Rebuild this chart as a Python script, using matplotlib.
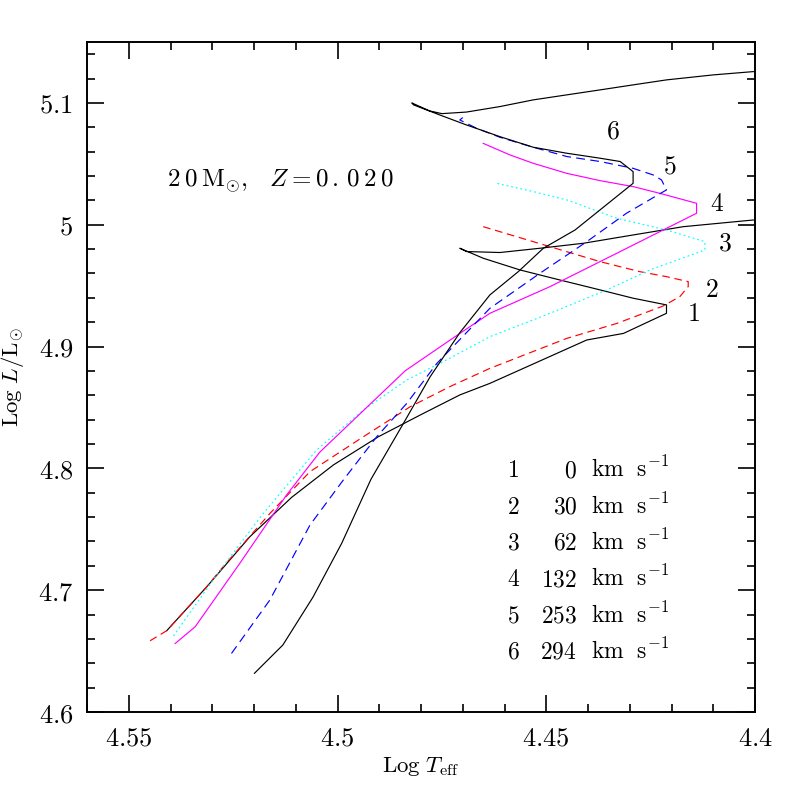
import matplotlib
matplotlib.use("Agg")
import matplotlib.pyplot as plt
from matplotlib.ticker import MultipleLocator, FuncFormatter

plt.rcParams['mathtext.fontset'] = 'cm'
plt.rcParams['font.family'] = ['DejaVu Serif']

# tracks (log Teff, log L/Lsun)
t1_x = [4.5409, 4.5313, 4.5210, 4.5110, 4.5010, 4.4902, 4.4802, 4.4707, 4.4635, 4.4403,
        4.4315, 4.4212, 4.4212, 4.4292, 4.4371, 4.4475, 4.4563, 4.4651, 4.4707, 4.4691,
        4.4611, 4.4515, 4.4411, 4.4292, 4.4172, 4.4004]
t1_y = [4.6668, 4.7029, 4.7439, 4.7762, 4.8028, 4.8260, 4.8438, 4.8603, 4.8698, 4.9054,
        4.9108, 4.9273, 4.9342, 4.9397, 4.9465, 4.9553, 4.9629, 4.9725, 4.9807, 4.9780,
        4.9772, 4.9807, 4.9848, 4.9916, 4.9984, 5.0039]

t2_x = [4.5449, 4.5409, 4.5313, 4.5274, 4.5162, 4.5066, 4.4938, 4.4826, 4.4731, 4.4635,
        4.4451, 4.4331, 4.4220, 4.4180, 4.4160, 4.4160, 4.4212, 4.4276, 4.4371, 4.4451,
        4.4531, 4.4611, 4.4651]
t2_y = [4.6585, 4.6668, 4.7029, 4.7193, 4.7630, 4.7973, 4.8260, 4.8506, 4.8671, 4.8821,
        4.9067, 4.9190, 4.9333, 4.9410, 4.9492, 4.9533, 4.9574, 4.9615, 4.9697, 4.9779,
        4.9861, 4.9943, 4.9984]

t3_x = [4.5393, 4.5281, 4.5178, 4.5050, 4.4938, 4.4834, 4.4739, 4.4635, 4.4491, 4.4355,
        4.4252, 4.4120, 4.4120, 4.4212, 4.4331, 4.4451, 4.4531, 4.4619]
t3_y = [4.6624, 4.7166, 4.7630, 4.8151, 4.8480, 4.8726, 4.8890, 4.9081, 4.9273, 4.9465,
        4.9629, 4.9793, 4.9861, 4.9957, 5.0053, 5.0204, 5.0272, 5.0340]

t4_x = [4.5389, 4.5341, 4.5234, 4.5122, 4.5042, 4.4838, 4.4707, 4.4635, 4.4491, 4.4331,
        4.4196, 4.4140, 4.4140, 4.4228, 4.4292, 4.4371, 4.4451, 4.4531, 4.4587, 4.4651]
t4_y = [4.6562, 4.6700, 4.7221, 4.7782, 4.8135, 4.8801, 4.9108, 4.9273, 4.9492, 4.9766,
        4.9998, 5.0094, 5.0176, 5.0258, 5.0313, 5.0362, 5.0422, 5.0504, 5.0573, 5.0668]

t5_x = [4.5254, 4.5162, 4.5066, 4.4986, 4.4906, 4.4834, 4.4762, 4.4635, 4.4515, 4.4403,
        4.4308, 4.4212, 4.4224, 4.4244, 4.4292, 4.4371, 4.4451, 4.4531, 4.4611, 4.4667,
        4.4707, 4.4700]
t5_y = [4.6481, 4.6920, 4.7535, 4.7905, 4.8260, 4.8534, 4.8862, 4.9314, 4.9602, 4.9861,
        5.0094, 5.0286, 5.0368, 5.0409, 5.0463, 5.0519, 5.0560, 5.0636, 5.0718, 5.0792,
        5.0860, 5.0880]

t6_x = [4.5199, 4.5131, 4.5059, 4.4990, 4.4920, 4.4842, 4.4778, 4.4707, 4.4635, 4.4567,
        4.4507, 4.4431, 4.4292, 4.4292, 4.4323, 4.4371, 4.4451, 4.4531, 4.4611, 4.4691,
        4.4755, 4.4818, 4.4822, 4.4780, 4.4750, 4.4691, 4.4611, 4.4531, 4.4451, 4.4371,
        4.4292, 4.4212, 4.4100, 4.4004]
t6_y = [4.6318, 4.6550, 4.6942, 4.7385, 4.7910, 4.8370, 4.8753, 4.9114, 4.9424, 4.9615,
        4.9807, 4.9957, 5.0340, 5.0436, 5.0519, 5.0546, 5.0587, 5.0636, 5.0723, 5.0819,
        5.0901, 5.0984, 5.1000, 5.0935, 5.0912, 5.0925, 5.0970, 5.1025, 5.1066, 5.1107,
        5.1148, 5.1189, 5.1230, 5.1257]

track_ids = ['1', '2', '3', '4', '5', '6']
velocities = ['0', '30', '62', '132', '253', '294']
colors = ['black', '#ff0000', '#00ffff', '#ff00ff', '#0000ff', 'black']
styles = ['-', (0, (6.5, 4)), (0, (1.5, 2.5)), '-', (0, (7.5, 4.5)), '-']
# where each track number is written
label_x = [4.4148, 4.4104, 4.4072, 4.4092, 4.4203, 4.4340]
label_y = [4.9273, 4.9470, 4.9848, 5.0176, 5.0483, 5.0770]

tracks = [(t1_x, t1_y), (t2_x, t2_y), (t3_x, t3_y), (t4_x, t4_y), (t5_x, t5_y), (t6_x, t6_y)]

fig = plt.figure(figsize=(7.97, 7.97), dpi=100)
ax = fig.add_axes([0.1092, 0.1066, 0.8381, 0.8407])

for (xs, ys), c, ls in zip(tracks, colors, styles):
    ax.plot(xs, ys, color=c, linestyle=ls, lw=0.85)

for i, tid in enumerate(track_ids):
    ax.text(label_x[i], label_y[i], r'$\mathrm{%s}$' % tid, fontsize=18.5,
            ha='center', va='center')

ax.text(4.5409, 5.0313,
        r'$\mathrm{2\:0\:M}_{\odot}\mathrm{,}\ \ \ Z=\mathrm{0\,.\,0\:2\:0}$',
        fontsize=18, va='baseline', ha='left')

# velocity table
row0 = 4.7927
for i, (tid, v) in enumerate(zip(track_ids, velocities)):
    yy = row0 - i * 0.0298
    ax.text(4.4595, yy, r'$\mathrm{%s}$' % tid, fontsize=17, ha='left', va='baseline')
    ax.text(4.4426, yy, r'$\mathrm{%s}$' % v, fontsize=17, ha='right', va='baseline')
    ax.text(4.4394, yy, r'$\mathrm{km\ \ s^{-1}}$', fontsize=17, ha='left', va='baseline')

ax.set_xlim(4.56, 4.40)
ax.set_ylim(4.6, 5.15)
ax.xaxis.set_major_locator(MultipleLocator(0.05))
ax.xaxis.set_minor_locator(MultipleLocator(0.01))
ax.yaxis.set_major_locator(MultipleLocator(0.1))
ax.yaxis.set_minor_locator(MultipleLocator(0.02))
fmt = FuncFormatter(lambda v, p: r'$\mathbf{%g}$' % round(v, 3))
ax.xaxis.set_major_formatter(fmt)
ax.yaxis.set_major_formatter(fmt)

ax.tick_params(which='both', direction='in', top=True, right=True, width=1.2)
ax.tick_params(which='major', length=12, labelsize=19)
ax.tick_params(which='minor', length=6)
ax.tick_params(axis='x', pad=10)
ax.tick_params(axis='y', pad=10)
for s in ax.spines.values():
    s.set_linewidth(1.4)

ax.set_xlabel(r'$\mathrm{Log}\ T_{\mathrm{eff}}$', fontsize=16.5)
ax.set_ylabel(r'$\mathrm{Log}\ L/\mathrm{L}_{\odot}$', fontsize=16.5)
ax.xaxis.set_label_coords(0.5, -0.064)
ax.yaxis.set_label_coords(-0.092, 0.5)

fig.savefig('out.png', dpi=100)
